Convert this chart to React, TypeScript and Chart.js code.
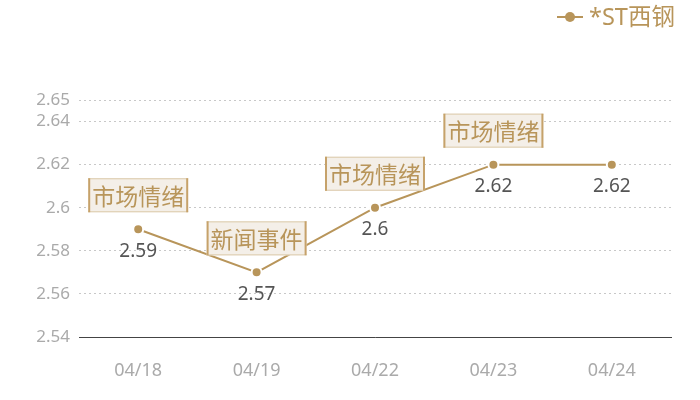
import React, { useEffect, useRef } from "react";
import { Chart, registerables } from "chart.js";

Chart.register(...registerables);

const categories = ["04/18", "04/19", "04/22", "04/23", "04/24"];
const prices = [2.59, 2.57, 2.6, 2.62, 2.62];
const events = ["市场情绪", "新闻事件", "市场情绪", "市场情绪", ""];
const yTickValues = [2.54, 2.56, 2.58, 2.6, 2.62, 2.64, 2.65];
const seriesName = "*ST西钢";

const GOLD = "#b8955a";
const FONT = "'Noto Sans', 'Noto Sans CJK SC', sans-serif";
const CJK = "'Noto Sans CJK SC', 'Noto Sans', sans-serif";

const overlayPlugin = {
  id: "overlay",
  afterDatasetsDraw(chart: any) {
    const ctx = chart.ctx;
    const meta = chart.getDatasetMeta(0);
    ctx.save();
    meta.data.forEach((pt: any, i: number) => {
      const x = pt.x;
      const y = pt.y;
      // value label below
      ctx.font = `19px ${FONT}`;
      ctx.fillStyle = "#555555";
      ctx.textAlign = "center";
      ctx.textBaseline = "middle";
      ctx.fillText(String(prices[i]), x, y + 22);
      // event box above
      const ev = events[i];
      if (ev) {
        ctx.font = `23px ${CJK}`;
        const w = ctx.measureText(ev).width + 8;
        const h = 34;
        const bottom = y - 17;
        const left = x - w / 2;
        const top = bottom - h;
        ctx.fillStyle = "#f4efe8";
        ctx.fillRect(left, top, w, h);
        ctx.strokeStyle = "#dccaa9";
        ctx.lineWidth = 1;
        ctx.beginPath();
        ctx.moveTo(left, top + 0.5);
        ctx.lineTo(left + w, top + 0.5);
        ctx.moveTo(left, bottom - 0.5);
        ctx.lineTo(left + w, bottom - 0.5);
        ctx.stroke();
        ctx.strokeStyle = "#c6a26a";
        ctx.lineWidth = 2;
        ctx.beginPath();
        ctx.moveTo(left + 1, top);
        ctx.lineTo(left + 1, bottom);
        ctx.moveTo(left + w - 1, top);
        ctx.lineTo(left + w - 1, bottom);
        ctx.stroke();
        ctx.fillStyle = GOLD;
        ctx.textAlign = "center";
        ctx.textBaseline = "middle";
        ctx.fillText(ev, x, top + h / 2 + 1);
      }
    });
    // legend
    const ly = 17;
    ctx.strokeStyle = GOLD;
    ctx.lineWidth = 2;
    ctx.beginPath();
    ctx.moveTo(557, ly);
    ctx.lineTo(583, ly);
    ctx.stroke();
    ctx.fillStyle = GOLD;
    ctx.beginPath();
    ctx.arc(570, ly, 5, 0, Math.PI * 2);
    ctx.fill();
    ctx.font = `23.5px ${FONT}`;
    ctx.textAlign = "left";
    ctx.textBaseline = "middle";
    ctx.fillText(seriesName, 589, ly + 1);
    ctx.restore();
  },
};

export default function App() {
  const ref = useRef<HTMLCanvasElement | null>(null);
  useEffect(() => {
    if (!ref.current) return;
    const chart = new Chart(ref.current, {
      type: "line",
      data: {
        labels: categories,
        datasets: [
          {
            label: seriesName,
            data: prices,
            borderColor: GOLD,
            backgroundColor: GOLD,
            borderWidth: 2,
            pointRadius: 5,
            pointBorderWidth: 2,
            pointBorderColor: "#ffffff",
            pointBackgroundColor: GOLD,
            tension: 0,
          },
        ],
      },
      options: {
        animation: false,
        responsive: true,
        maintainAspectRatio: false,
        layout: { padding: { top: 100, right: 29, left: 0, bottom: 0 } },
        plugins: {
          legend: { display: false },
          tooltip: { enabled: false },
        },
        scales: {
          x: {
            offset: true,
            grid: { display: false, drawTicks: false },
            border: { display: true, color: "#444444", width: 1 },
            ticks: {
              color: "#aaaaaa",
              font: { size: 18, family: FONT },
              padding: 23,
            },
            afterFit: (s: any) => {
              s.height = 63;
            },
          },
          y: {
            min: 2.54,
            max: 2.65,
            grid: {
              color: "#c8c8c8",
              drawTicks: false,
            },
            border: { display: false, dash: [2, 3] },
            ticks: {
              color: "#aaaaaa",
              font: { size: 17, family: FONT },
              padding: 9,
              callback: (v: any) => String(Number(v)),
            },
            afterBuildTicks: (s: any) => {
              s.ticks = yTickValues.map((v) => ({ value: v }));
            },
            afterFit: (s: any) => {
              s.width = 79;
            },
          },
        },
      },
      plugins: [overlayPlugin],
    });
    return () => chart.destroy();
  }, []);
  return (
    <div style={{ position: "absolute", left: 0, top: 0, width: 700, height: 400 }}>
      <canvas ref={ref} />
    </div>
  );
}
